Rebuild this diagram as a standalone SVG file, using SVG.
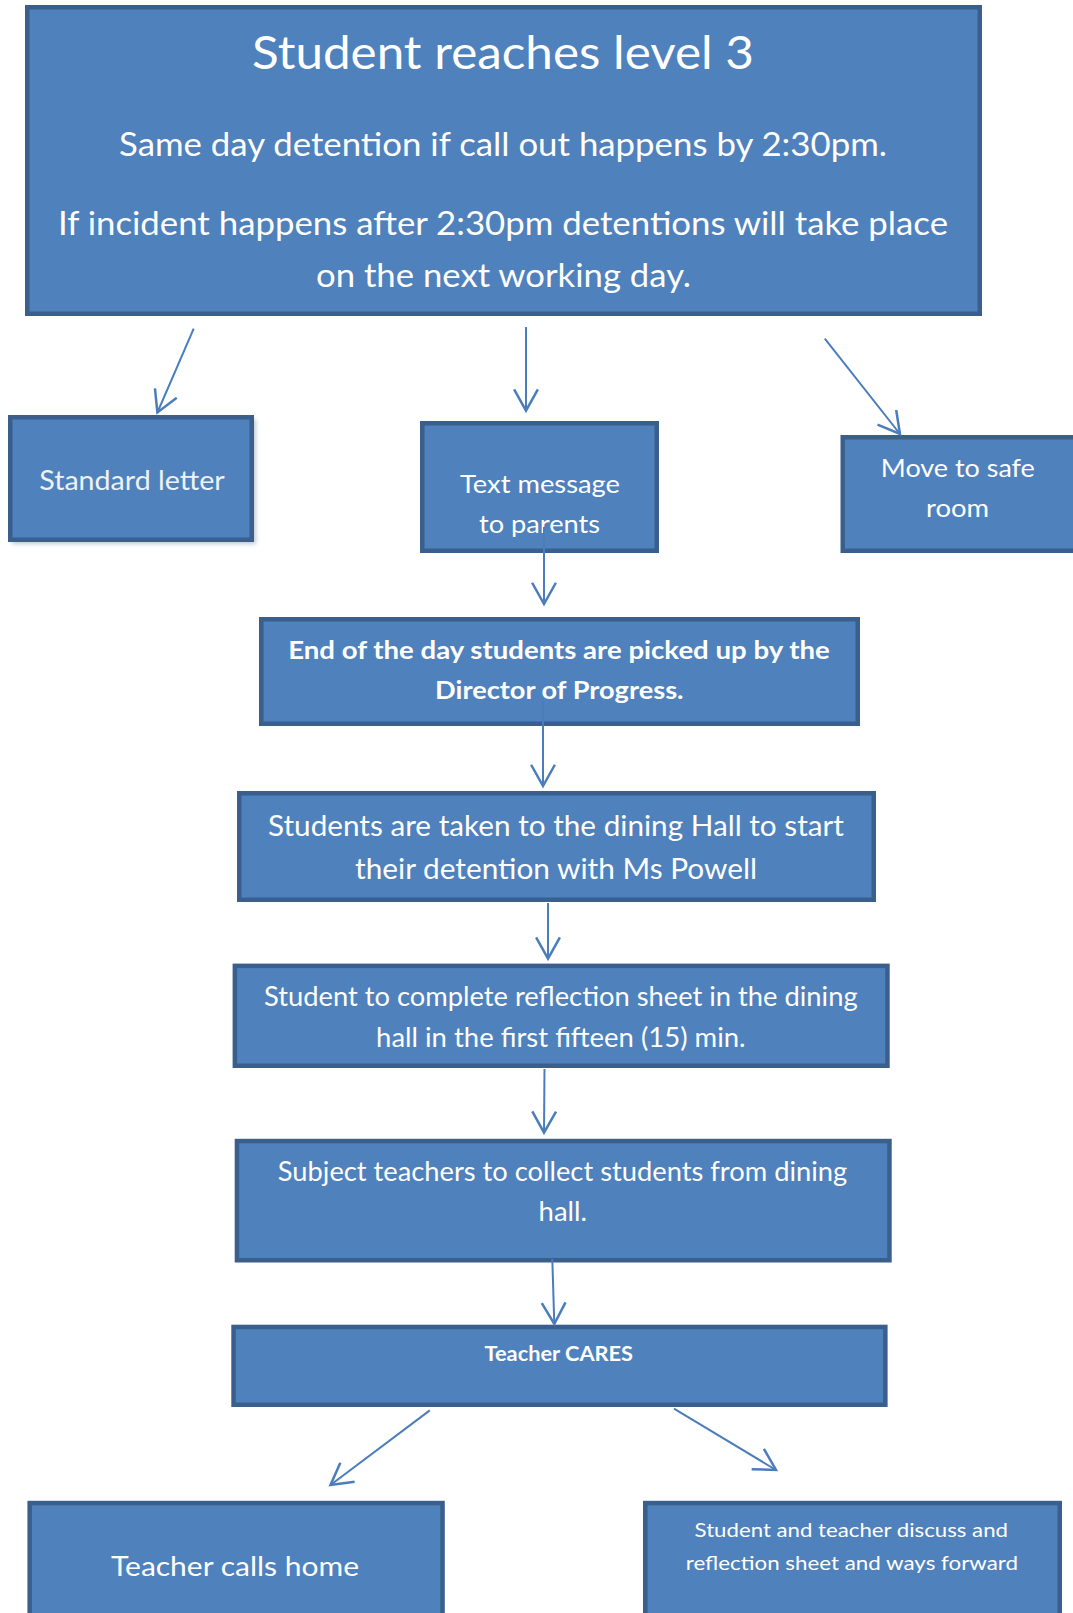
<svg xmlns="http://www.w3.org/2000/svg" width="1073" height="1613" viewBox="0 0 1073 1613">
<style>
.box{fill:#4F81BD;stroke:#3A5F8D;stroke-width:4.5}
.t{font-family:Lato,"Open Sans","Liberation Sans",sans-serif;fill:#FFFFFF;text-anchor:middle}
.b{font-weight:bold}
.c{fill:none;stroke:#4A7EBB;stroke-width:2;marker-end:url(#ah)}
</style>
<defs>
<marker id="ah" markerUnits="userSpaceOnUse" markerWidth="30" markerHeight="30" refX="0" refY="0" viewBox="-20 -12 22 24" orient="auto">
<path d="M-17,-9.5 L0,0 L-17,9.5" fill="none" stroke="#4A7EBB" stroke-width="2"/>
</marker>
<filter id="sh" x="-10%" y="-10%" width="120%" height="130%">
<feGaussianBlur stdDeviation="2"/>
</filter>
</defs>
<rect width="1073" height="1613" fill="#FFFFFF"/>

<g id="n-level3">
<rect class="box" x="27.25" y="7.25" width="952.5" height="306.5"/>
<text class="t" x="503" y="68.5" font-size="46" textLength="502" lengthAdjust="spacingAndGlyphs">Student reaches level 3</text>
<text class="t" x="503" y="156" font-size="32" textLength="768" lengthAdjust="spacingAndGlyphs">Same day detention if call out happens by 2:30pm.</text>
<text class="t" x="503" y="234.6" font-size="32" textLength="890" lengthAdjust="spacingAndGlyphs">If incident happens after 2:30pm detentions will take place</text>
<text class="t" x="503.5" y="287" font-size="32" textLength="375" lengthAdjust="spacingAndGlyphs">on the next working day.</text>
</g>

<g id="n-letter">
<rect x="12" y="419" width="244" height="125" fill="#9AA4B0" filter="url(#sh)" opacity="0.6"/>
<rect class="box" x="10.25" y="417.25" width="241.5" height="122.5"/>
<text class="t" x="132" y="490" font-size="27" fill="#EEF2F8" style="fill:#EEF2F8" textLength="185.5" lengthAdjust="spacingAndGlyphs">Standard letter</text>
</g>

<g id="n-text">
<rect class="box" x="422.25" y="423.25" width="234.5" height="127.5"/>
<text class="t" x="540" y="492.7" font-size="25" textLength="160" lengthAdjust="spacingAndGlyphs">Text message</text>
<text class="t" x="539.5" y="533.3" font-size="25" textLength="121" lengthAdjust="spacingAndGlyphs">to parents</text>
</g>

<g id="n-safe">
<rect class="box" x="842.75" y="437.25" width="250" height="113.5"/>
<text class="t" x="957.8" y="476.8" font-size="25" textLength="154" lengthAdjust="spacingAndGlyphs">Move to safe</text>
<text class="t" x="957.6" y="517" font-size="25" textLength="63" lengthAdjust="spacingAndGlyphs">room</text>
</g>

<g id="n-endday">
<rect class="box" x="261.25" y="619.25" width="596.5" height="104.5"/>
<text class="t b" x="559" y="658.6" font-size="24" textLength="541.5" lengthAdjust="spacingAndGlyphs">End of the day students are picked up by the</text>
<text class="t b" x="559.3" y="698.6" font-size="24" textLength="248.5" lengthAdjust="spacingAndGlyphs">Director of Progress.</text>
</g>

<g id="n-dining">
<rect class="box" x="239.25" y="793.25" width="634.5" height="106.5"/>
<text class="t" x="556" y="836" font-size="28" textLength="576" lengthAdjust="spacingAndGlyphs">Students are taken to the dining Hall to start</text>
<text class="t" x="556" y="879" font-size="28" textLength="402" lengthAdjust="spacingAndGlyphs">their detention with Ms Powell</text>
</g>

<g id="n-reflection">
<rect class="box" x="234.85" y="965.85" width="652.6" height="99.9"/>
<text class="t" x="560.8" y="1005.7" font-size="27" textLength="593.6" lengthAdjust="spacingAndGlyphs">Student to complete reflection sheet in the dining</text>
<text class="t" x="560.8" y="1046.8" font-size="27" textLength="369.5" lengthAdjust="spacingAndGlyphs">hall in the first fifteen (15) min.</text>
</g>

<g id="n-collect">
<rect class="box" x="236.95" y="1141.05" width="652.5" height="119.2"/>
<text class="t" x="562.5" y="1181" font-size="26" textLength="569.4" lengthAdjust="spacingAndGlyphs">Subject teachers to collect students from dining</text>
<text class="t" x="562.8" y="1221" font-size="26" textLength="48.4" lengthAdjust="spacingAndGlyphs">hall.</text>
</g>

<g id="n-cares">
<rect class="box" x="233.55" y="1326.95" width="651.8" height="77.8"/>
<text class="t b" x="558.8" y="1361.4" font-size="20" textLength="148.5" lengthAdjust="spacingAndGlyphs">Teacher CARES</text>
</g>

<g id="n-callhome">
<rect class="box" x="29.65" y="1503.05" width="412.9" height="130"/>
<text class="t" x="235" y="1575.6" font-size="27" textLength="248" lengthAdjust="spacingAndGlyphs">Teacher calls home</text>
</g>

<g id="n-discuss">
<rect class="box" x="645.25" y="1503.05" width="414.5" height="130"/>
<text class="t" x="851.3" y="1537" font-size="20" textLength="313.4" lengthAdjust="spacingAndGlyphs">Student and teacher discuss and</text>
<text class="t" x="851.9" y="1569.5" font-size="20" textLength="332.3" lengthAdjust="spacingAndGlyphs">reflection sheet and ways forward</text>
</g>

<g id="connectors">
<line class="c" x1="193.7" y1="328.6" x2="157.4" y2="412.5"/>
<line class="c" x1="526" y1="327" x2="526" y2="410.7"/>
<line class="c" x1="824.8" y1="338.6" x2="900" y2="434"/>
<line class="c" x1="544" y1="527" x2="544" y2="604"/>
<line class="c" x1="543" y1="702" x2="543" y2="786"/>
<line class="c" x1="548" y1="903" x2="548" y2="958.6"/>
<line class="c" x1="544.5" y1="1069" x2="544" y2="1132.7"/>
<line class="c" x1="552.3" y1="1259" x2="554.3" y2="1324"/>
<line class="c" x1="429.8" y1="1410.4" x2="330.5" y2="1485"/>
<line class="c" x1="674" y1="1408.7" x2="776" y2="1470"/>
</g>
</svg>
